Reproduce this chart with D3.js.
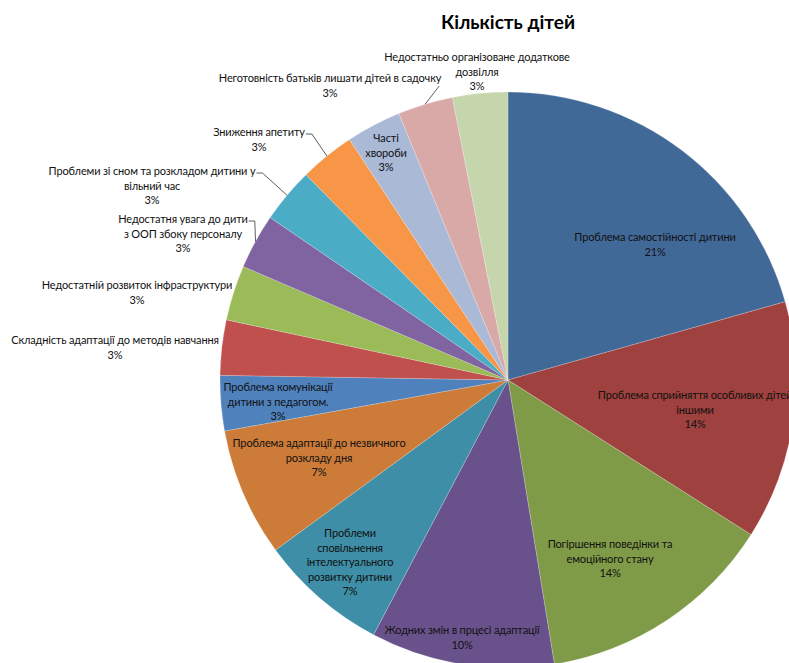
<!DOCTYPE html>
<html>
<head>
<meta charset="utf-8">
<script src="https://cdn.jsdelivr.net/npm/d3@7/dist/d3.min.js"></script>
<style>
  body { margin: 0; background: #fff; }
  svg { display: block; font-family: Lato, "Open Sans", sans-serif; }
</style>
</head>
<body>
<div id="chart"></div>
<script>
// data
const categories = [
  "Проблема самостійності дитини",
  "Проблема сприйняття особливих дітей іншими",
  "Погіршення поведінки та емоційного стану",
  "Жодних змін в прцесі адаптації",
  "Проблеми сповільнення інтелектуального розвитку дитини",
  "Проблема адаптації до незвичного розкладу дня",
  "Проблема комунікації дитини з педагогом.",
  "Складність адаптації до методів навчання",
  "Недостатній розвиток інфраструктури",
  "Недостатня увага до дити з ООП збоку персоналу",
  "Проблеми зі сном та розкладом дитини у вільний час",
  "Зниження апетиту",
  "Часті хвороби",
  "Неготовність батьків лишати дітей в садочку",
  "Недостатньо організоване додаткове дозвілля"
];
const counts = [20, 13, 13, 10, 7, 7, 3, 3, 3, 3, 3, 3, 3, 3, 3];
const percentLabels = ["21%", "14%", "14%", "10%", "7%", "7%", "3%", "3%", "3%", "3%", "3%", "3%", "3%", "3%", "3%"];

// how the label text is broken into lines
const labelLines = [
  ["Проблема самостійності дитини"],
  ["Проблема сприйняття особливих дітей", "іншими"],
  ["Погіршення поведінки та", "емоційного стану"],
  ["Жодних змін в прцесі адаптації"],
  ["Проблеми", "сповільнення", "інтелектуального", "розвитку дитини"],
  ["Проблема адаптації до незвичного", "розкладу дня"],
  ["Проблема комунікації", "дитини з педагогом."],
  ["Складність адаптації до методів навчання"],
  ["Недостатній розвиток інфраструктури"],
  ["Недостатня увага до дити", "з ООП збоку персоналу"],
  ["Проблеми зі сном та розкладом дитини у", "вільний час"],
  ["Зниження апетиту"],
  ["Часті", "хвороби"],
  ["Неготовність батьків лишати дітей в садочку"],
  ["Недостатньо організоване додаткове", "дозвілля"]
];

const colors = [
  "#416998", "#9f413e", "#7f9b48", "#69528b", "#3d8ea6", "#cc7b39",
  "#4f81bd", "#c0504d", "#9bbb59", "#8064a2", "#4bacc6", "#f79646",
  "#aab9d6", "#d9a9a8", "#c6d6ac"
];

// label placement (offset of first text line from pie centre) and leader style
const labelOffset = [
  [147, -143], [187, 15], [102, 164], [-46, 250], [-158, 153], [-189, 63],
  [-230, 7], [-393, -40], [-371, -95], [-325, -161], [-356, -209],
  [-249, -248], [-122, -242], [-178, -302], [-31, -323]
];
const leaders = { 9: "side", 10: "side", 11: "side", 13: "below" };

const width = 789, height = 663;
const cx = 508, cy = 380, radius = 288;
const lineH = 14.6;

const svg = d3.select("#chart").append("svg")
  .attr("width", width)
  .attr("height", height);

svg.append("text")
  .attr("x", 508)
  .attr("y", 29)
  .attr("text-anchor", "middle")
  .style("font-size", "19px")
  .style("font-weight", "bold")
  .style("fill", "#000")
  .text("Кількість дітей");

const g = svg.append("g")
  .attr("transform", "translate(" + cx + "," + cy + ")");

const pie = d3.pie().sort(null).value(d => d);
const arcs = pie(counts);

const arc = d3.arc().innerRadius(0).outerRadius(radius);

g.selectAll("path.slice")
  .data(arcs)
  .enter().append("path")
  .attr("class", "slice")
  .attr("d", arc)
  .style("fill", (d, i) => colors[i])
  .style("stroke", "#fff")
  .style("stroke-width", 0.4)
  .style("stroke-opacity", 0.5);

// labels
const labels = g.selectAll("g.label")
  .data(arcs)
  .enter().append("g")
  .attr("class", "label");

labels.each(function (d, i) {
  const lines = labelLines[i].concat([percentLabels[i]]);
  const t = d3.select(this).append("text")
    .attr("text-anchor", "middle")
    .style("font-size", "11px")
    .style("letter-spacing", "-0.15px")
    .style("fill", "#111");
  lines.forEach(function (ln, k) {
    t.append("tspan")
      .attr("x", labelOffset[i][0])
      .attr("y", labelOffset[i][1] + k * lineH + 4)
      .text(ln);
  });

  if (leaders[i]) {
    const firstW = t.select("tspan").node().getComputedTextLength();
    const mid = (d.startAngle + d.endAngle) / 2;
    const rim = [radius * Math.sin(mid), -radius * Math.cos(mid)];
    const lx = labelOffset[i][0] + firstW / 2;
    const ly = labelOffset[i][1] + 2;
    let pts;
    if (leaders[i] === "side") {
      pts = [[lx + 1, ly], [lx + 7, ly], rim];
    } else {
      pts = [[lx - 2, ly + 6], rim];
    }
    d3.select(this).append("path")
      .attr("d", d3.line()(pts))
      .style("fill", "none")
      .style("stroke", "#333")
      .style("stroke-width", 0.8);
  }
});
</script>
</body>
</html>
